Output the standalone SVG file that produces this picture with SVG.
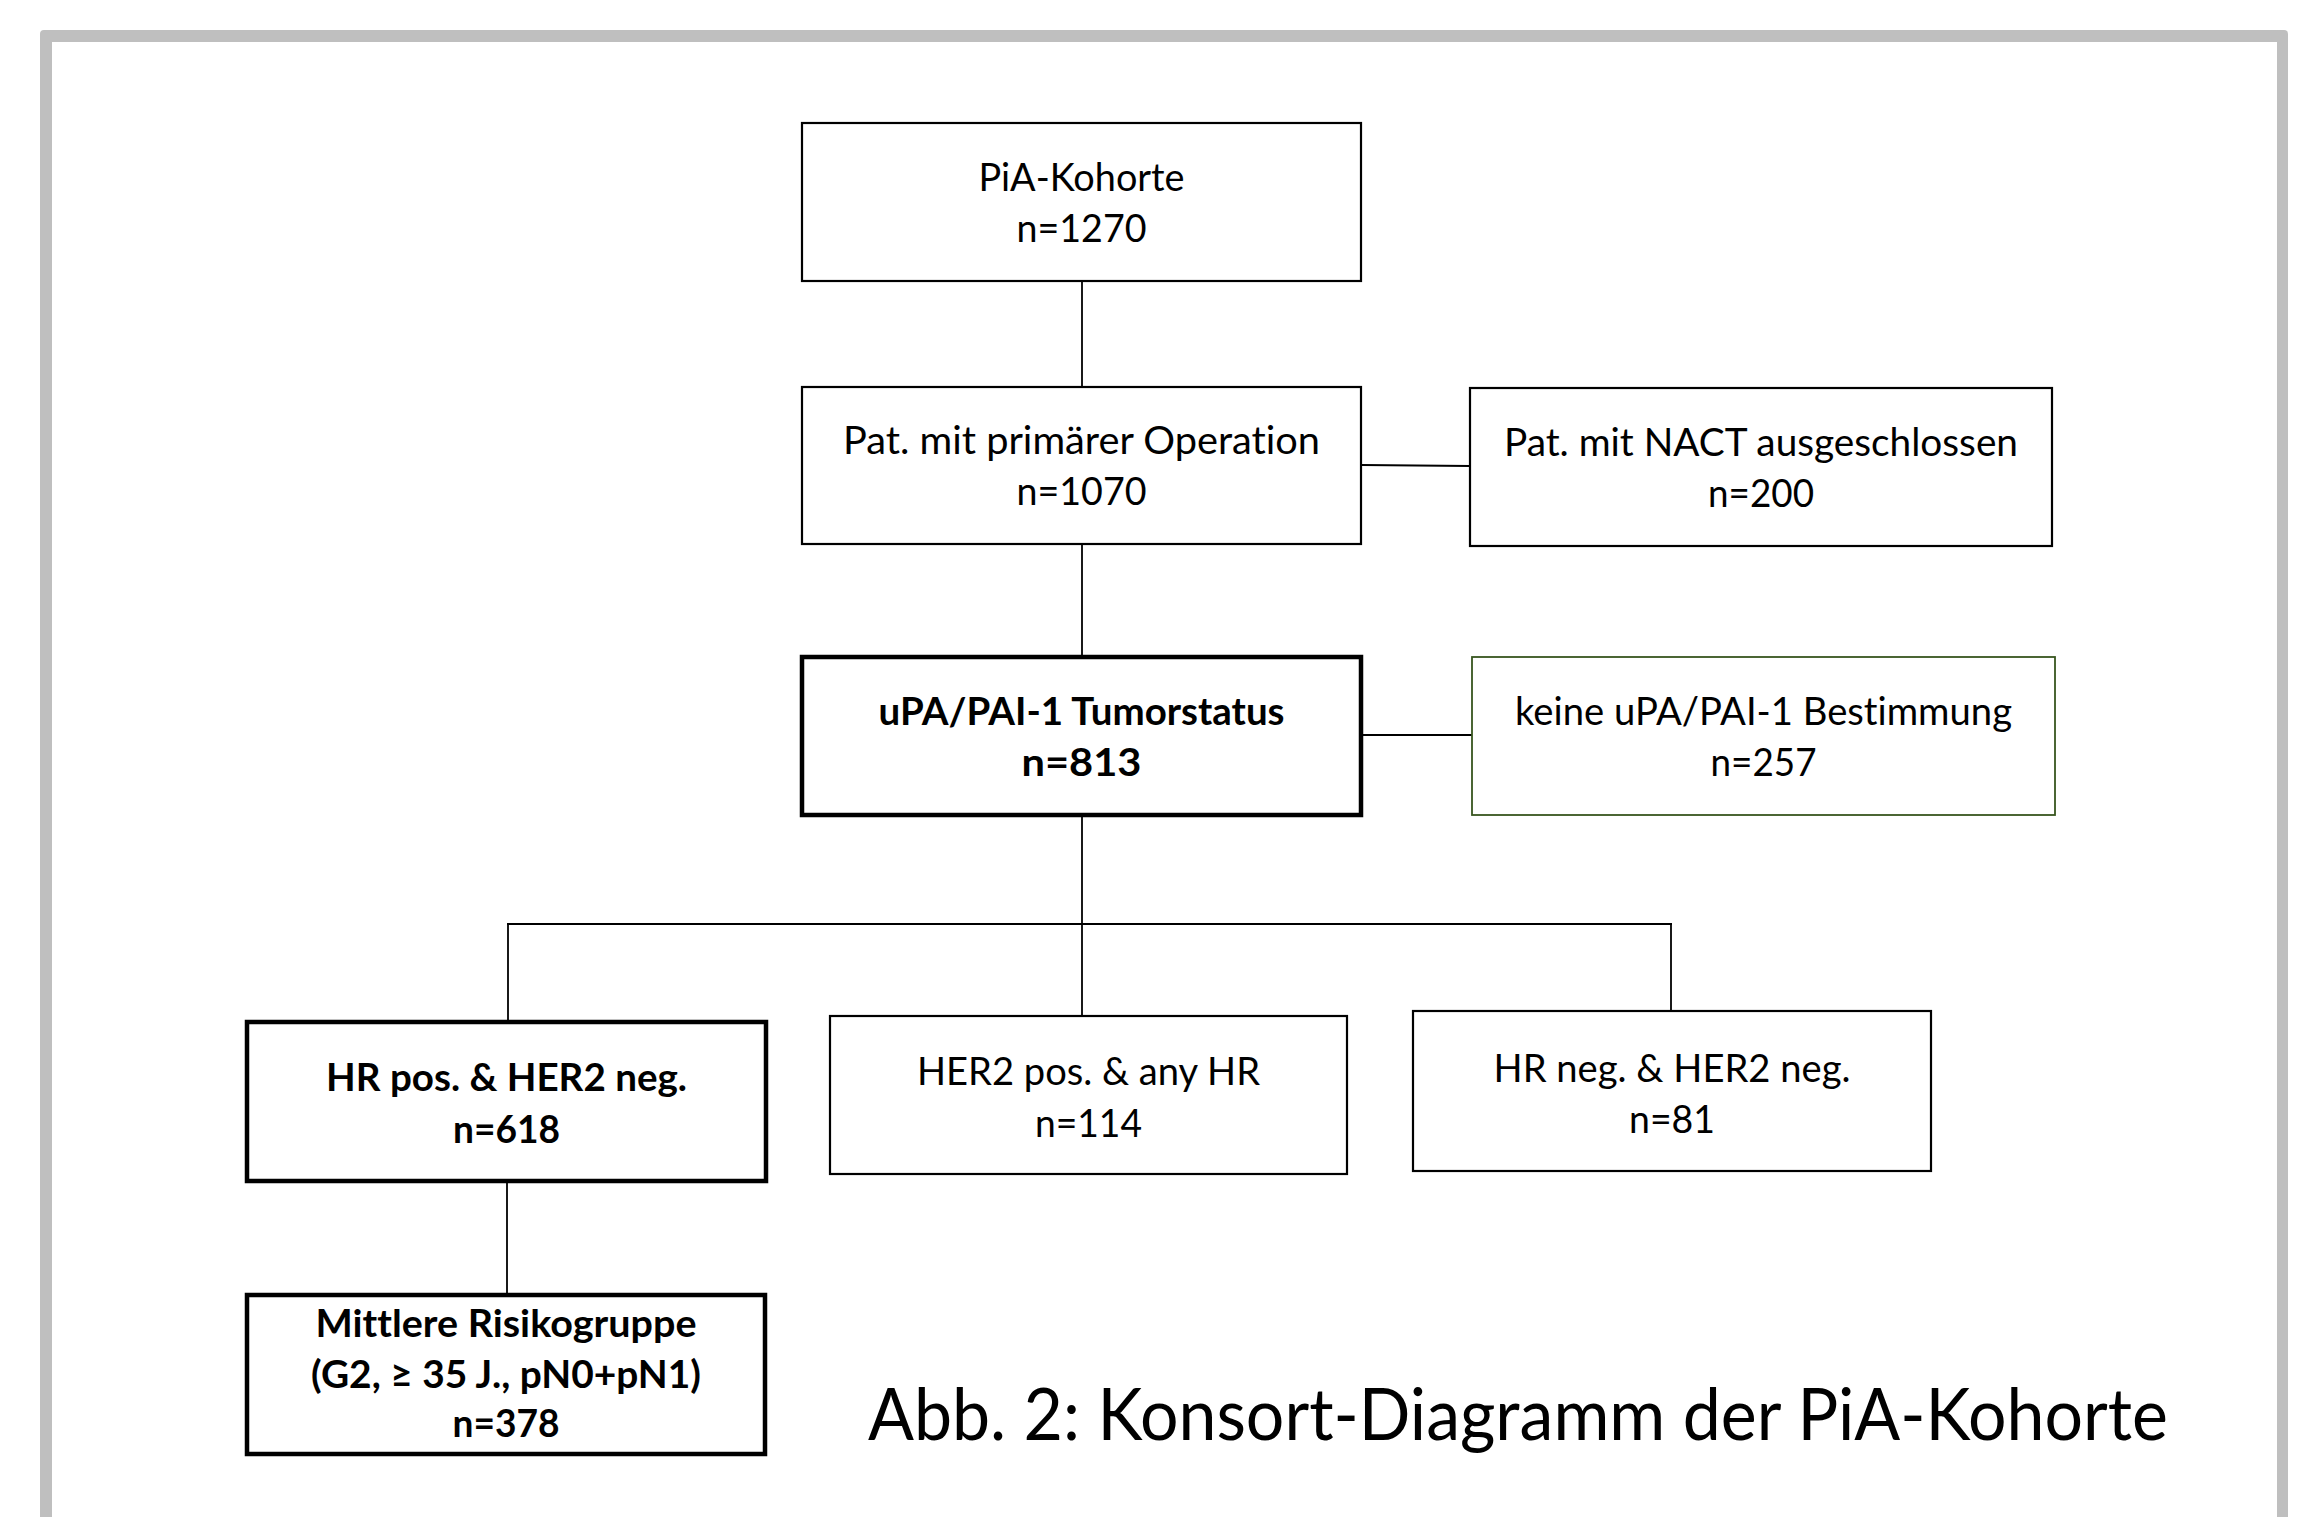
<svg xmlns="http://www.w3.org/2000/svg" width="2315" height="1517" viewBox="0 0 2315 1517">
<style>
.box{fill:#ffffff;stroke:#000000;stroke-width:2.2}
.thick{fill:#ffffff;stroke:#000000;stroke-width:4.5}
.green{fill:#ffffff;stroke:#38561f;stroke-width:1.8}
.t{font-family:Lato,"Open Sans","Liberation Sans",sans-serif;font-size:38px;fill:#000000;text-anchor:middle;font-variant-ligatures:none}
.b{font-weight:bold}
.cap{font-family:Lato,"Open Sans","Liberation Sans",sans-serif;font-size:72px;fill:#000000;font-variant-ligatures:none}
.conn line{stroke:#000000;stroke-width:1.8}
</style>
<rect x="0" y="0" width="2315" height="1517" fill="#ffffff"/>
<path d="M40,1530 L40,34 Q40,30 44,30 L2284,30 Q2288,30 2288,34 L2288,1530 L2277,1530 L2277,42 L52,42 L52,1530 Z" fill="#bfbfbf"/>
<g id="connectors" class="conn">
<line x1="1082" y1="281" x2="1082" y2="387"/>
<line x1="1082" y1="544" x2="1082" y2="657"/>
<line x1="1362" y1="465" x2="1470" y2="466"/>
<line x1="1362" y1="735" x2="1472" y2="735"/>
<line x1="1082" y1="815" x2="1082" y2="1016"/>
<line x1="507" y1="924" x2="1672" y2="924"/>
<line x1="508" y1="924" x2="508" y2="1022"/>
<line x1="1671" y1="924" x2="1671" y2="1011"/>
<line x1="507" y1="1181" x2="507" y2="1295"/>
</g>
<g id="n1">
<rect class="box" x="802" y="123" width="559" height="158"/>
<text class="t" x="1081.5" y="191" textLength="206" lengthAdjust="spacingAndGlyphs">PiA-Kohorte</text>
<text class="t" x="1081.5" y="242" textLength="130" lengthAdjust="spacingAndGlyphs">n=1270</text>
</g>
<g id="n2">
<rect class="box" x="802" y="387" width="559" height="157"/>
<text class="t" x="1081.5" y="454" textLength="477" lengthAdjust="spacingAndGlyphs">Pat. mit primärer Operation</text>
<text class="t" x="1081.5" y="505" textLength="130" lengthAdjust="spacingAndGlyphs">n=1070</text>
</g>
<g id="n3">
<rect class="box" x="1470" y="388" width="582" height="158"/>
<text class="t" x="1761" y="456" textLength="514" lengthAdjust="spacingAndGlyphs">Pat. mit NACT ausgeschlossen</text>
<text class="t" x="1761" y="507" textLength="106" lengthAdjust="spacingAndGlyphs">n=200</text>
</g>
<g id="n4">
<rect class="thick" x="802" y="657" width="559" height="158"/>
<text class="t b" x="1081.5" y="725" textLength="406" lengthAdjust="spacingAndGlyphs">uPA/PAI-1 Tumorstatus</text>
<text class="t b" x="1081.5" y="776" textLength="120" lengthAdjust="spacingAndGlyphs">n=813</text>
</g>
<g id="n5">
<rect class="green" x="1472" y="657" width="583" height="158"/>
<text class="t" x="1763.5" y="725" textLength="497" lengthAdjust="spacingAndGlyphs">keine uPA/PAI-1 Bestimmung</text>
<text class="t" x="1763.5" y="776" textLength="106" lengthAdjust="spacingAndGlyphs">n=257</text>
</g>
<g id="n6">
<rect class="thick" x="247" y="1022" width="519" height="159"/>
<text class="t b" x="506.5" y="1091" textLength="361" lengthAdjust="spacingAndGlyphs">HR pos. &amp; HER2 neg.</text>
<text class="t b" x="506.5" y="1143" textLength="107" lengthAdjust="spacingAndGlyphs">n=618</text>
</g>
<g id="n7">
<rect class="box" x="830" y="1016" width="517" height="158"/>
<text class="t" x="1088.5" y="1085" textLength="343" lengthAdjust="spacingAndGlyphs">HER2 pos. &amp; any HR</text>
<text class="t" x="1088.5" y="1137" textLength="107" lengthAdjust="spacingAndGlyphs">n=114</text>
</g>
<g id="n8">
<rect class="box" x="1413" y="1011" width="518" height="160"/>
<text class="t" x="1672" y="1082" textLength="357" lengthAdjust="spacingAndGlyphs">HR neg. &amp; HER2 neg.</text>
<text class="t" x="1672" y="1133" textLength="86" lengthAdjust="spacingAndGlyphs">n=81</text>
</g>
<g id="n9">
<rect class="thick" x="247" y="1295" width="518" height="159"/>
<text class="t b" x="506" y="1337" textLength="381" lengthAdjust="spacingAndGlyphs">Mittlere Risikogruppe</text>
<text class="t b" x="506" y="1388" textLength="390" lengthAdjust="spacingAndGlyphs">(G2, ≥ 35 J., pN0+pN1)</text>
<text class="t b" x="506" y="1437" textLength="107" lengthAdjust="spacingAndGlyphs">n=378</text>
</g>
<text class="cap" x="868" y="1440" textLength="1300" lengthAdjust="spacingAndGlyphs">Abb. 2: Konsort-Diagramm der PiA-Kohorte</text>
</svg>
